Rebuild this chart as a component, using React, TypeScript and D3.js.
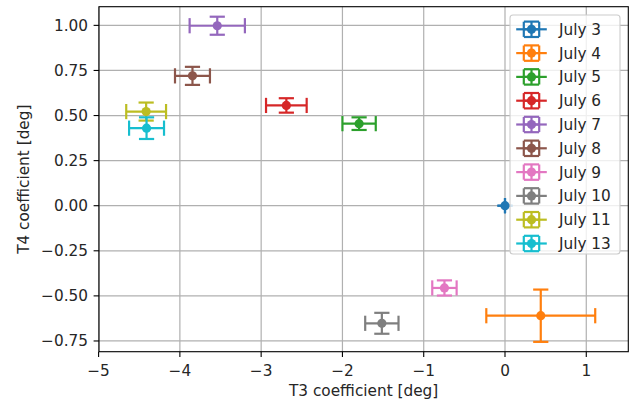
import React from "react";
import * as d3 from "d3";

const labels = ["July 3", "July 4", "July 5", "July 6", "July 7", "July 8", "July 9", "July 10", "July 11", "July 13"];
const xValues = [0, 0.44, -1.795, -2.69, -3.54, -3.845, -0.745, -1.515, -4.415, -4.41];
const xErrors = [0, 0.67, 0.205, 0.25, 0.34, 0.215, 0.15, 0.205, 0.245, 0.215];
const yValues = [0, -0.61, 0.455, 0.556, 0.998, 0.72, -0.456, -0.652, 0.522, 0.43];
const yErrors = [0, 0.145, 0.035, 0.04, 0.05, 0.05, 0.042, 0.058, 0.05, 0.06];
const colors = ["#1f77b4", "#ff7f0e", "#2ca02c", "#d62728", "#9467bd", "#8c564b", "#e377c2", "#7f7f7f", "#bcbd22", "#17becf"];
const xTicks = [-5, -4, -3, -2, -1, 0, 1];
const yTicks = [1.0, 0.75, 0.5, 0.25, 0.0, -0.25, -0.5, -0.75];

const W = 633, H = 407;
const left = 99, right = 628.3, top = 6.7, bottom = 351.7;
const FS = 15.3;
const FONT = "DejaVu Sans";
const CAP = 7.6;
const LW = 2.2;
const R = 4.6;

const fmtMinus = (s: string) => s.replace("-", "\u2212");

export default function App() {
  const x = d3.scaleLinear().domain([-4.995, 1.517]).range([left, right]);
  const y = d3.scaleLinear().domain([-0.8095, 1.1035]).range([bottom, top]);
  const yFmt = d3.format(".2f");

  const legX = 510, legY = 15, legW = 110, legH = 239;
  const rowH = 23.8;
  const handleL = 516.2, handleR = 546.8, handleC = 531.5, textX = 559;

  return (
    <svg width={W} height={H} style={{ position: "absolute", left: 0, top: 0, fontFamily: FONT }}>
      <rect x={0} y={0} width={W} height={H} fill="white" />
      {/* grid */}
      <g stroke="#b0b0b0" strokeWidth={1.2}>
        {xTicks.map((t) => (
          <line key={"gx" + t} x1={x(t)} x2={x(t)} y1={top} y2={bottom} />
        ))}
        {yTicks.map((t) => (
          <line key={"gy" + t} x1={left} x2={right} y1={y(t)} y2={y(t)} />
        ))}
      </g>
      {/* data */}
      {labels.map((lab, i) => {
        const cx = x(xValues[i]);
        const cy = y(yValues[i]);
        const x0 = x(xValues[i] - xErrors[i]);
        const x1 = x(xValues[i] + xErrors[i]);
        const y0 = y(yValues[i] - yErrors[i]);
        const y1 = y(yValues[i] + yErrors[i]);
        const c = colors[i];
        return (
          <g key={lab} stroke={c} strokeWidth={LW}>
            <line x1={x0} x2={x1} y1={cy} y2={cy} />
            <line x1={cx} x2={cx} y1={y0} y2={y1} />
            <line x1={x0} x2={x0} y1={cy - CAP} y2={cy + CAP} />
            <line x1={x1} x2={x1} y1={cy - CAP} y2={cy + CAP} />
            <line x1={cx - CAP} x2={cx + CAP} y1={y0} y2={y0} />
            <line x1={cx - CAP} x2={cx + CAP} y1={y1} y2={y1} />
            <circle cx={cx} cy={cy} r={R} fill={c} stroke="none" />
          </g>
        );
      })}
      {/* spines */}
      <rect x={left} y={top} width={right - left} height={bottom - top} fill="none" stroke="black" strokeWidth={1.1} />
      {/* x ticks */}
      {xTicks.map((t) => (
        <g key={"xt" + t}>
          <line x1={x(t)} x2={x(t)} y1={bottom} y2={bottom + 5.4} stroke="black" strokeWidth={1.1} />
          <text x={x(t)} y={376} textAnchor="middle" fontSize={FS} fill="#262626">
            {fmtMinus(String(t))}
          </text>
        </g>
      ))}
      {/* y ticks */}
      {yTicks.map((t) => (
        <g key={"yt" + t}>
          <line x1={left - 5.4} x2={left} y1={y(t)} y2={y(t)} stroke="black" strokeWidth={1.1} />
          <text x={88} y={y(t) + 5.5} textAnchor="end" fontSize={FS} fill="#262626">
            {fmtMinus(yFmt(t))}
          </text>
        </g>
      ))}
      <text x={(left + right) / 2} y={396} textAnchor="middle" fontSize={FS} fill="#262626">
        T3 coefficient [deg]
      </text>
      <text
        transform={`translate(28.5, ${(top + bottom) / 2}) rotate(-90)`}
        textAnchor="middle"
        fontSize={FS}
        fill="#262626"
      >
        T4 coefficient [deg]
      </text>
      {/* legend */}
      <rect x={legX} y={legY} width={legW} height={legH} rx={3} fill="white" fillOpacity={0.8} stroke="#cccccc" strokeWidth={1.1} />
      {labels.map((lab, i) => {
        const cy = 29.3 + i * rowH;
        const c = colors[i];
        const e = 7.7;
        return (
          <g key={"lg" + lab}>
            <g stroke={c} strokeWidth={LW}>
              <line x1={handleL} x2={handleR} y1={cy} y2={cy} />
              <line x1={handleC - e} x2={handleC + e} y1={cy} y2={cy} />
              <line x1={handleC} x2={handleC} y1={cy - e} y2={cy + e} />
              <line x1={handleC - e} x2={handleC - e} y1={cy - CAP} y2={cy + CAP} />
              <line x1={handleC + e} x2={handleC + e} y1={cy - CAP} y2={cy + CAP} />
              <line x1={handleC - CAP} x2={handleC + CAP} y1={cy - e} y2={cy - e} />
              <line x1={handleC - CAP} x2={handleC + CAP} y1={cy + e} y2={cy + e} />
              <circle cx={handleC} cy={cy} r={R} fill={c} stroke="none" />
            </g>
            <text x={textX} y={cy + 5.5} fontSize={FS} fill="#262626">
              {lab}
            </text>
          </g>
        );
      })}
    </svg>
  );
}
